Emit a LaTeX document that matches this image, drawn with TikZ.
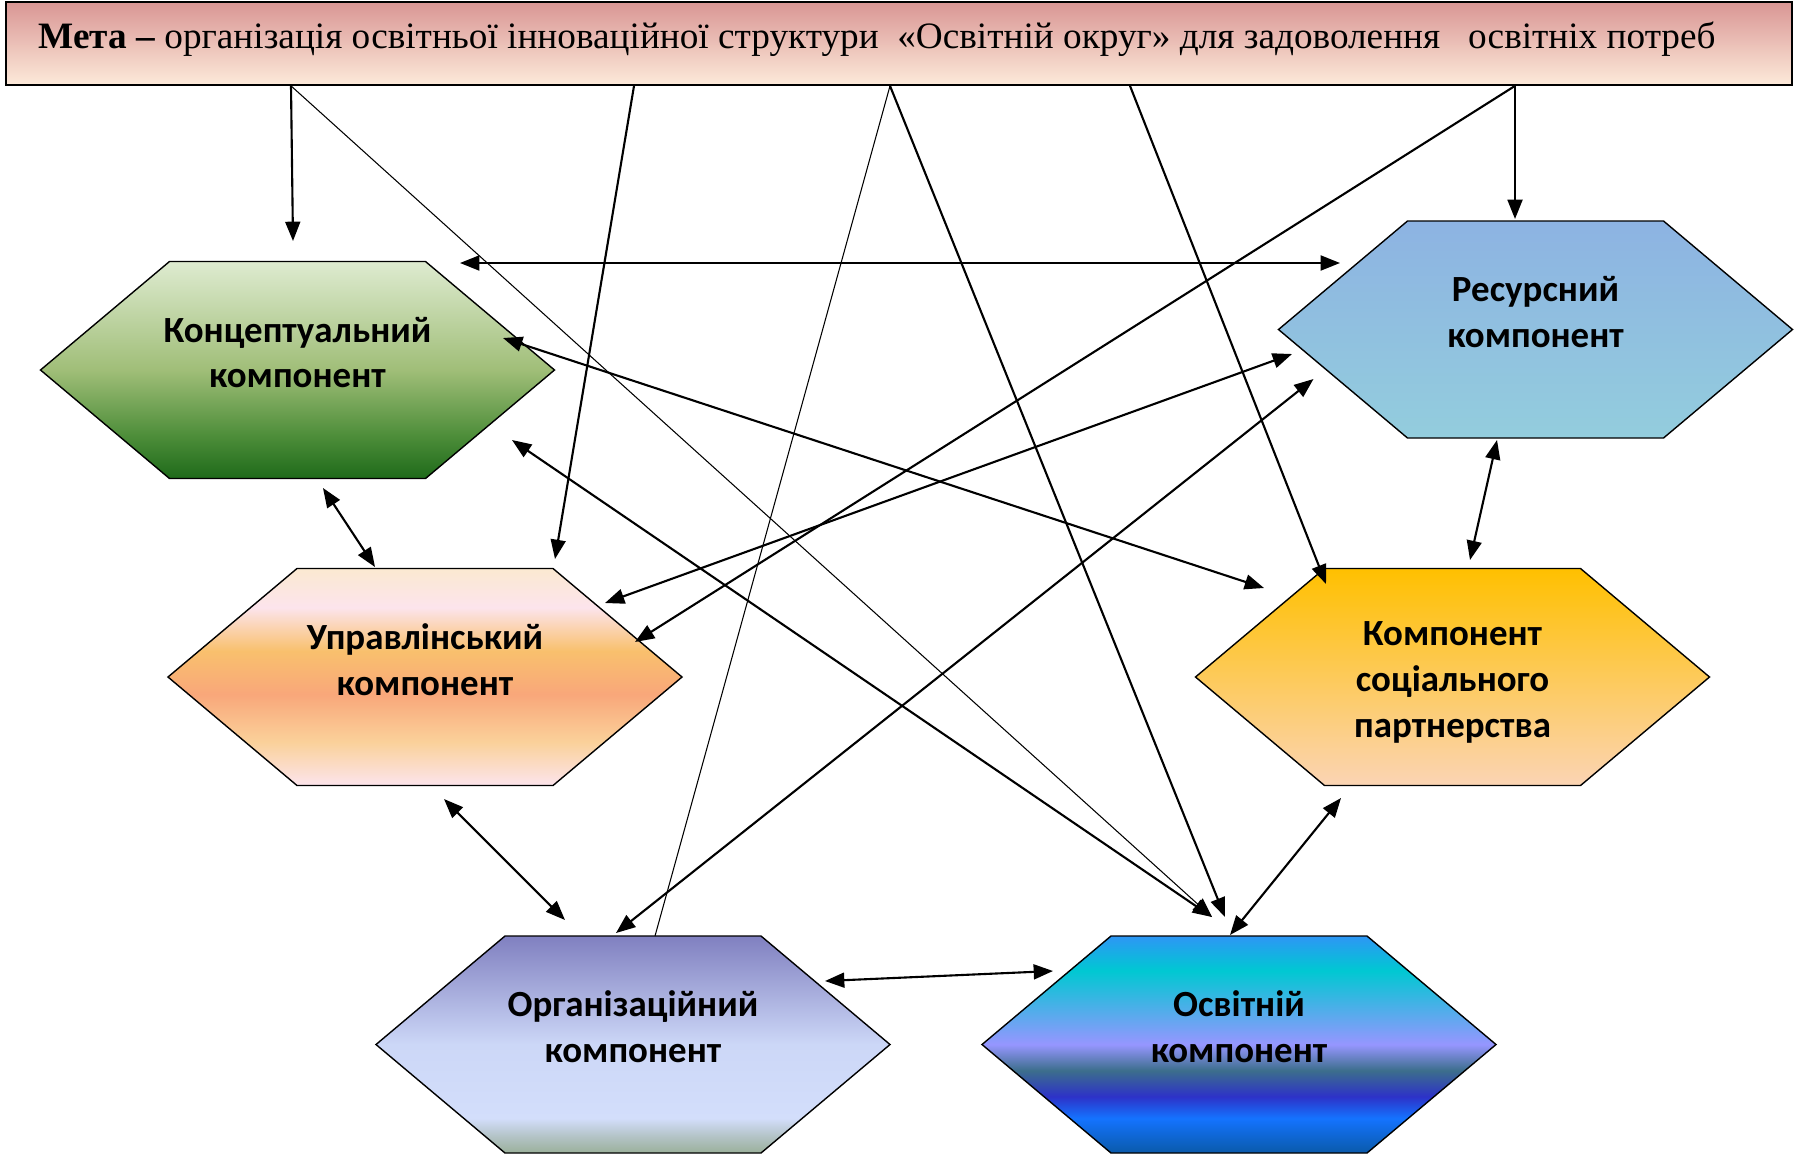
\documentclass[tikz,border=0pt]{standalone}
\usepackage{fontspec}
\setmainfont{Liberation Serif}
\newfontfamily\hexfont{Carlito}
\usetikzlibrary{arrows.meta}

% Colours
\definecolor{goaltop}{RGB}{217,150,148}
\definecolor{goalbot}{RGB}{253,234,218}
\definecolor{konctop}{RGB}{222,235,208}
\definecolor{koncmid}{RGB}{160,190,120}
\definecolor{konclow}{RGB}{78,142,58}
\definecolor{koncbot}{RGB}{30,106,26}
\definecolor{restop}{RGB}{141,179,226}
\definecolor{resbot}{RGB}{147,205,221}
\definecolor{socktop}{RGB}{255,192,0}
\definecolor{sockbot}{RGB}{251,212,180}
\definecolor{uprA}{RGB}{251,233,209}
\definecolor{uprB}{RGB}{252,228,236}
\definecolor{uprC}{RGB}{249,192,109}
\definecolor{uprD}{RGB}{249,167,122}
\definecolor{uprE}{RGB}{250,209,154}
\definecolor{orgA}{RGB}{128,128,192}
\definecolor{orgB}{RGB}{204,215,247}
\definecolor{orgC}{RGB}{211,222,251}
\definecolor{orgD}{RGB}{180,196,200}
\definecolor{orgE}{RGB}{154,176,154}
\definecolor{osvA}{RGB}{45,150,245}
\definecolor{osvB}{RGB}{0,200,210}
\definecolor{osvC}{RGB}{150,150,255}
\definecolor{osvD}{RGB}{60,110,140}
\definecolor{osvE}{RGB}{45,50,200}
\definecolor{osvF}{RGB}{20,115,255}
\definecolor{osvG}{RGB}{10,90,170}

% Shadings (25bp = bottom, 75bp = top)
\pgfdeclareverticalshading{goalshade}{100bp}{color(0bp)=(goalbot); color(25bp)=(goalbot); color(75bp)=(goaltop); color(100bp)=(goaltop)}
\pgfdeclareverticalshading{koncshade}{100bp}{color(0bp)=(koncbot); color(25bp)=(koncbot); color(35bp)=(konclow); color(50bp)=(koncmid); color(75bp)=(konctop); color(100bp)=(konctop)}
\pgfdeclareverticalshading{resshade}{100bp}{color(0bp)=(resbot); color(25bp)=(resbot); color(75bp)=(restop); color(100bp)=(restop)}
\pgfdeclareverticalshading{socshade}{100bp}{color(0bp)=(sockbot); color(25bp)=(sockbot); color(75bp)=(socktop); color(100bp)=(socktop)}
\pgfdeclareverticalshading{uprshade}{100bp}{color(0bp)=(uprB); color(25bp)=(uprB); color(35bp)=(uprE); color(46bp)=(uprD); color(56bp)=(uprC); color(66bp)=(uprB); color(75bp)=(uprA); color(100bp)=(uprA)}
\pgfdeclareverticalshading{orgshade}{100bp}{color(0bp)=(orgE); color(25bp)=(orgE); color(29bp)=(orgD); color(33bp)=(orgC); color(50bp)=(orgB); color(75bp)=(orgA); color(100bp)=(orgA)}
\pgfdeclareverticalshading{osvshade}{100bp}{color(0bp)=(osvG); color(25bp)=(osvG); color(33bp)=(osvF); color(38bp)=(osvE); color(44bp)=(osvD); color(50bp)=(osvC); color(67bp)=(osvB); color(75bp)=(osvA); color(100bp)=(osvA)}

\tikzset{
  hexlabel/.style={font=\hexfont\bfseries\fontsize{21}{26}\selectfont, align=center, inner sep=0pt},
  feed/.style={line width=1.2pt, -{Triangle[length=11pt,width=8.5pt]}},
  link/.style={line width=1.2pt, {Triangle[length=11pt,width=8.5pt]}-{Triangle[length=11pt,width=8.5pt]}},
  thinfeed/.style={line width=0.6pt}
}

\begin{document}
\begin{tikzpicture}[x=0.02cm, y=-0.02cm]
\useasboundingbox (0,0) rectangle (1794,1157);

% Goal box
\node[draw=black, line width=1pt, shading=goalshade, minimum width=35.72cm, minimum height=1.66cm, inner sep=0pt] (goal) at (899,43.5) {};
\node[anchor=west, inner sep=0pt, font=\fontsize{21.2}{24}\selectfont] (goal-txt) at (38,39.5)
  {\textbf{Мета –} організація освітньої інноваційної структури\ \ «Освітній округ» для задоволення\ \ \ освітніх потреб};

% Hexagons
\foreach \name/\x/\y/\shd/\dy/\txt in {
  konc/297.5/370/koncshade/-17.6/{Концептуальний\\компонент},
  res/1535.5/329.5/resshade/-17.6/{Ресурсний\\компонент},
  upr/425/677/uprshade/-17.6/{Управлінський\\компонент},
  soc/1452.5/677/socshade/5.3/{Компонент\\соціального\\партнерства},
  org/633/1044.5/orgshade/-17.6/{Організаційний\\компонент},
  osv/1239/1044.5/osvshade/-17.6/{Освітній\\компонент}} {
  \coordinate (\name) at (\x,\y);
  \shade[shading=\shd, draw=black, line width=0.8pt]
    (\x-257,\y) -- (\x-128,\y-108.5) -- (\x+128,\y-108.5) -- (\x+257,\y)
    -- (\x+128,\y+108.5) -- (\x-128,\y+108.5) -- cycle;
  \node[hexlabel] (\name-txt) at (\x,\y+\dy) {\txt};
}

% Arrows from the goal
\draw[feed] ([shift={(-608,0)}]goal.south) -- ([shift={(-4.5,-129)}]konc);
\draw[feed] ([shift={(-265,0)}]goal.south) -- ([shift={(130,-118)}]upr);
\draw[thinfeed] ([shift={(-9,0)}]goal.south) -- ([shift={(22,-108.5)}]org);
\draw[feed] ([shift={(-9,0)}]goal.south) -- ([shift={(-14,-127.5)}]osv);
\draw[feed] ([shift={(231,0)}]goal.south) -- ([shift={(-126.5,-93)}]soc);
\draw[feed] ([shift={(616,0)}]goal.south) -- ([shift={(-20.5,-110.5)}]res);
\draw[feed] ([shift={(616,0)}]goal.south) -- ([shift={(210,-35)}]upr);
\draw[thinfeed, -{Triangle[length=11pt,width=8.5pt]}] ([shift={(-608,0)}]goal.south) -- ([shift={(-27,-127.5)}]osv);

% Links between components
\draw[link] ([shift={(162.5,-107)}]konc) -- ([shift={(-195.5,-66.5)}]res);
\draw[link] ([shift={(205.5,-32)}]konc) -- ([shift={(-188.5,-89)}]soc);
\draw[link] ([shift={(214.5,70)}]konc) -- ([shift={(-27,-127.5)}]osv);
\draw[link] ([shift={(180,-74)}]upr) -- ([shift={(-243.5,24.5)}]res);
\draw[link] ([shift={(-17,-111.5)}]org) -- ([shift={(-222,49.5)}]res);
\draw[link] ([shift={(25.5,118)}]konc) -- ([shift={(-50,-110)}]upr);
\draw[link] ([shift={(19,122)}]upr) -- ([shift={(-68,-124.5)}]org);
\draw[link] ([shift={(192,-63.5)}]org) -- ([shift={(-186,-73.5)}]osv);
\draw[link] ([shift={(-9,-109.5)}]osv) -- ([shift={(-111.5,121)}]soc);
\draw[link] ([shift={(-38.5,110.5)}]res) -- ([shift={(17.5,-117)}]soc);
\end{tikzpicture}
\end{document}
